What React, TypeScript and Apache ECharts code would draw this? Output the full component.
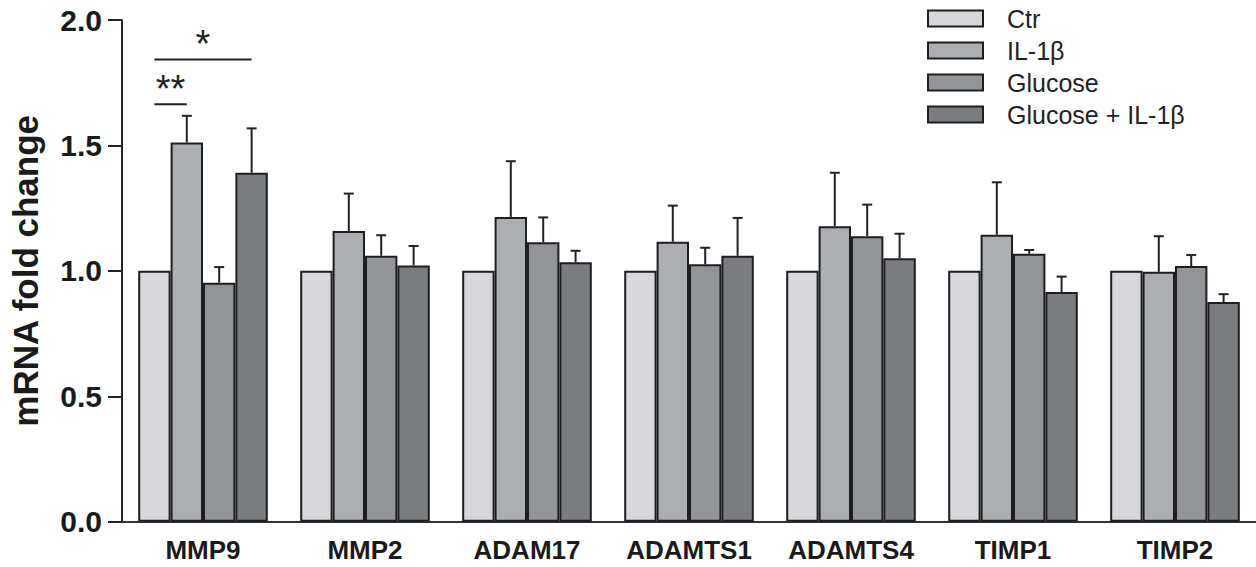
import React, { useEffect, useRef } from "react";
import * as echarts from "echarts";

const categories = ["MMP9", "MMP2", "ADAM17", "ADAMTS1", "ADAMTS4", "TIMP1", "TIMP2"];
const seriesNames = ["Ctr", "IL-1β", "Glucose", "Glucose + IL-1β"];
const ctr = [1, 1, 1, 1, 1, 1, 1];
const il1b = [1.512, 1.159, 1.215, 1.116, 1.178, 1.144, 0.996];
const il1bSem = [0.106, 0.149, 0.222, 0.144, 0.213, 0.209, 0.142];
const glucose = [0.953, 1.06, 1.114, 1.026, 1.138, 1.068, 1.019];
const glucoseSem = [0.062, 0.082, 0.099, 0.066, 0.126, 0.015, 0.044];
const glucoseIl1b = [1.391, 1.021, 1.034, 1.06, 1.05, 0.916, 0.876];
const glucoseIl1bSem = [0.177, 0.078, 0.046, 0.151, 0.098, 0.061, 0.031];
const yTicks = [0, 0.5, 1.0, 1.5, 2.0];
// significance: [category index, from bar, to bar, line value, label]
const sigMarks: [number, number, number, number, string][] = [
  [0, 0, 1, 1.664, "**"],
  [0, 0, 3, 1.843, "*"],
];

const colors = ["#d8d8dc", "#adaeb2", "#939498", "#7b7c80"];
const FONT = "'Liberation Sans', Arial, sans-serif";

export default function App() {
  const ref = useRef<HTMLDivElement>(null);
  useEffect(() => {
    if (!ref.current) return;
    const chart = echarts.init(ref.current, null, { renderer: "svg" });
    const means = [ctr, il1b, glucose, glucoseIl1b];
    const sems = [null, il1bSem, glucoseSem, glucoseIl1bSem];
    const errData: number[][] = [];
    sems.forEach((s, si) => {
      if (!s) return;
      s.forEach((e, ci) => errData.push([ci, si, means[si][ci], means[si][ci] + e]));
    });
    const barSeries = seriesNames.map((name, i) => ({
      name,
      type: "bar",
      data: means[i],
      barGap: "0%",
      barCategoryGap: "20%",
      itemStyle: { color: colors[i], borderColor: "#1e1e1e", borderWidth: 2 },
      z: 2,
    }));
    const option: any = {
      animation: false,
      textStyle: { fontFamily: FONT },
      grid: { left: 119, right: -4, top: 20, bottom: 45.3, containLabel: false },
      legend: {
        orient: "vertical",
        left: 922,
        top: 1,
        itemWidth: 55,
        itemHeight: 16,
        itemGap: 7,
        icon: "rect",
        data: seriesNames,
        textStyle: { fontSize: 25, color: "#222", fontFamily: FONT, padding: [0, 0, 0, 19], lineHeight: 25 },
      },
      xAxis: {
        type: "category",
        data: categories,
        axisLine: { lineStyle: { color: "#333", width: 2 } },
        axisTick: { show: false },
        axisLabel: { interval: 0, fontSize: 26, fontWeight: "bold", color: "#1a1a1a", margin: 15, fontFamily: FONT },
      },
      yAxis: {
        type: "value",
        min: yTicks[0],
        max: yTicks[yTicks.length - 1],
        interval: 0.5,
        name: "mRNA fold change",
        nameLocation: "middle",
        nameGap: 79,
        nameTextStyle: { fontSize: 35, fontWeight: "bold", color: "#1a1a1a", fontFamily: FONT },
        splitLine: { show: false },
        axisLine: { show: true, lineStyle: { color: "#222", width: 2 } },
        axisTick: { show: true, length: 14, lineStyle: { color: "#222", width: 2 } },
        axisLabel: {
          fontSize: 30,
          fontWeight: "bold",
          color: "#1a1a1a",
          margin: 20,
          fontFamily: FONT,
          formatter: (v: number) => v.toFixed(1),
        },
      },
      series: [
        ...barSeries,
        {
          type: "custom",
          name: "err",
          data: errData,
          encode: { x: 0, y: 2 },
          z: 3,
          renderItem: (params: any, api: any) => {
            const cat = api.value(0);
            const si = api.value(1);
            const band = api.size([1, 0])[0];
            const bw = (band * 0.8) / 4;
            const p0 = api.coord([cat, api.value(2)]);
            const p1 = api.coord([cat, api.value(3)]);
            const x = p0[0] + (si - 1.5) * bw;
            const st = { stroke: "#222", lineWidth: 2 };
            return {
              type: "group",
              children: [
                { type: "line", shape: { x1: x, y1: p0[1], x2: x, y2: p1[1] }, style: st },
                { type: "line", shape: { x1: x - 5, y1: p1[1], x2: x + 5, y2: p1[1] }, style: st },
              ],
            };
          },
        },
        {
          type: "custom",
          name: "sig",
          data: sigMarks.map((m) => [m[0], m[1], m[2], m[3], m[4]]),
          encode: { x: 0, y: 3 },
          z: 4,
          renderItem: (params: any, api: any) => {
            const cat = api.value(0);
            const a = api.value(1);
            const b = api.value(2);
            const label = sigMarks[params.dataIndex][4];
            const band = api.size([1, 0])[0];
            const bw = (band * 0.8) / 4;
            const p = api.coord([cat, api.value(3)]);
            const xa = p[0] + (a - 1.5) * bw;
            const xb = p[0] + (b - 1.5) * bw;
            return {
              type: "group",
              children: [
                { type: "line", shape: { x1: xa, y1: p[1], x2: xb, y2: p[1] }, style: { stroke: "#222", lineWidth: 2 } },
                {
                  type: "text",
                  x: (xa + xb) / 2,
                  y: p[1] - 15,
                  style: {
                    text: label,
                    fontSize: 38,
                    fontFamily: FONT,
                    fill: "#222",
                    align: "center",
                    verticalAlign: "middle",
                  },
                },
              ],
            };
          },
        },
      ],
    };
    chart.setOption(option);
    return () => chart.dispose();
  }, []);
  return <div ref={ref} style={{ position: "fixed", left: 0, top: 0, width: 1256, height: 567, background: "#fff" }} />;
}
